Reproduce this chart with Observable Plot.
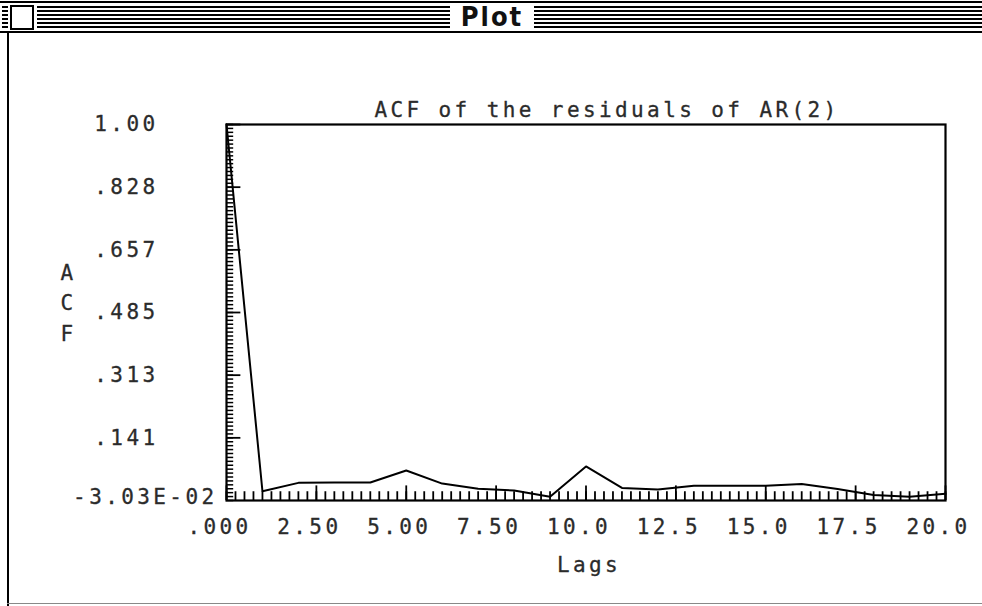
<!DOCTYPE html>
<html><head><meta charset="utf-8">
<script src="https://cdn.jsdelivr.net/npm/d3@7"></script>
<script src="https://cdn.jsdelivr.net/npm/@observablehq/plot@0.6"></script>
<style>
html,body{margin:0;padding:0;background:#fff;}
#win{position:relative;width:982px;height:606px;overflow:hidden;background:#fff;}
#chart{position:absolute;left:0;top:0;}
.blk{position:absolute;background:#000;}
.wht{position:absolute;background:#fff;}
#ptitle{position:absolute;left:450px;top:3px;width:84px;height:28px;background:#fff;text-align:center;
  font-family:"DejaVu Sans Condensed","DejaVu Sans",sans-serif;font-weight:bold;font-size:27px;line-height:28px;letter-spacing:2px;color:#111;}
</style></head><body>
<div id="win">
  <div id="chart"></div>
  <div class="blk" style="left:0;top:1px;width:982px;height:2px"></div>
  <div style="position:absolute;left:2px;top:6px;width:980px;height:23px;background:repeating-linear-gradient(to bottom,#000 0 2.5px,#fff 2.5px 4px)"></div>
  <div class="wht" style="left:8px;top:4px;width:29px;height:27px"></div>
  <div style="position:absolute;left:10px;top:5px;width:20px;height:21px;border:2px solid #000;background:#fff"></div>
  <div id="ptitle">Plot</div>
  <div class="blk" style="left:0;top:31px;width:982px;height:2px"></div>
  <div class="blk" style="left:7px;top:31px;width:2px;height:575px"></div>
  <div class="blk" style="left:7px;top:603px;width:975px;height:1px;background:#888"></div>
</div>
<script>
// Data
const lags = [0, 1, 2, 3, 4, 5, 6, 7, 8, 9, 10, 11, 12, 13, 14, 15, 16, 17, 18, 19, 20];
const acf  = [1.00, -0.005, 0.018, 0.019, 0.019, 0.052, 0.016, 0.002, -0.003, -0.020, 0.063, 0.004, 0.000, 0.010, 0.010, 0.010, 0.015, 0.001, -0.015, -0.020, -0.012];

// Ticks
const xTickValues = [0, 2.5, 5, 7.5, 10, 12.5, 15, 17.5, 20];
const xTickLabels = [".000", "2.50", "5.00", "7.50", "10.0", "12.5", "15.0", "17.5", "20.0"];
const yTickValues = [1.0, 0.82828, 0.65657, 0.48485, 0.31313, 0.14141];
const yTickLabels = ["1.00", ".828", ".657", ".485", ".313", ".141"];
const yMinValue = -0.0303;
const yMinLabel = "-3.03E-02";
const titleText = "ACF of the residuals of AR(2)";
const xLabel = "Lags";
const yLabel = "A\nC\nF";

const xMinor = d3.range(0, 20.001, 0.25);
const yMinor = d3.range(0, 97).map(i => yMinValue + i * (1 - yMinValue) / 96);

const rows = lags.map((l, i) => ({lag: l, acf: acf[i]}));

const chart = Plot.plot({
  width: 982, height: 606,
  marginLeft: 226, marginRight: 37, marginTop: 124, marginBottom: 106,
  x: {domain: [0, 20], axis: null},
  y: {domain: [yMinValue, 1.0], axis: null},
  style: {fontFamily: "'DejaVu Sans Mono', monospace", fontSize: "21px", letterSpacing: "3.4px", color: "#2b2b2b", background: "transparent", overflow: "visible"},
  marks: [
    Plot.ruleX(xMinor, {x: d => d, y1: yMinValue, y2: yMinValue + 0.024, stroke: "#000", strokeWidth: 1.8}),
    Plot.ruleX(xTickValues, {x: d => d, y1: yMinValue, y2: yMinValue + 0.04, stroke: "#000", strokeWidth: 1.8}),
    Plot.ruleY(yMinor, {y: d => d, x1: 0, x2: 0.2, stroke: "#000", strokeWidth: 1.5}),
    Plot.ruleY(yTickValues, {y: d => d, x1: 0, x2: 0.4, stroke: "#000", strokeWidth: 1.8}),
    Plot.line(rows, {x: "lag", y: "acf", stroke: "#000", strokeWidth: 2}),
    Plot.frame({stroke: "#000", strokeWidth: 2.2}),
    Plot.text(xTickValues, {x: d => d, y: yMinValue, text: (d, i) => xTickLabels[i], dy: 27, dx: -7, fill: "#2b2b2b", stroke: "#2b2b2b", strokeWidth: 0.3}),
    Plot.text(yTickValues, {x: 0, y: d => d, text: (d, i) => yTickLabels[i], textAnchor: "end", dx: -68, fill: "#2b2b2b", stroke: "#2b2b2b", strokeWidth: 0.3}),
    Plot.text([yMinValue], {x: 0, y: d => d, text: [yMinLabel], textAnchor: "end", dx: -9, dy: -3, fill: "#2b2b2b", stroke: "#2b2b2b", strokeWidth: 0.3}),
    Plot.text([titleText], {frameAnchor: "top", lineAnchor: "middle", dy: -14, dx: 21, fill: "#2b2b2b", stroke: "#2b2b2b", strokeWidth: 0.3}),
    Plot.text([xLabel], {frameAnchor: "bottom", lineAnchor: "middle", dy: 65, dx: 3, fill: "#2b2b2b", stroke: "#2b2b2b", strokeWidth: 0.3}),
    Plot.text([yLabel], {frameAnchor: "left", lineAnchor: "middle", textAnchor: "middle", lineHeight: 1.45, dx: -158, dy: -12, fill: "#2b2b2b", stroke: "#2b2b2b", strokeWidth: 0.3})
  ]
});
document.getElementById("chart").appendChild(chart);
</script>
</body></html>
